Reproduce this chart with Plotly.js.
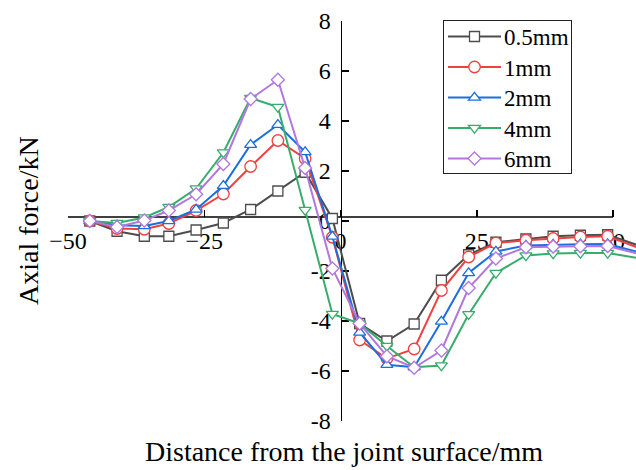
<!DOCTYPE html>
<html>
<head>
<meta charset="utf-8">
<script src="https://cdn.plot.ly/plotly-3.0.1.min.js"></script>
<style>
  html, body { margin: 0; padding: 0; background: #ffffff; }
  #chart { width: 636px; height: 470px; }
</style>
</head>
<body>
<div id="chart"></div>
<script>
// Distance from the joint surface (mm)
const distance = [-46, -41, -36, -31.5, -26.5, -21.5, -16.5, -11.5, -6.5, -1.5,
                  3.5, 8.5, 13.5, 18.5, 23.5, 28.5, 34, 39, 44, 49, 59];

// Axial force (kN) for each opening width
const series05 = [0, -0.41, -0.61, -0.61, -0.36, -0.08, 0.46, 1.2, 1.95, 0.1,
                  -4.1, -4.8, -4.12, -2.37, -1.35, -0.85, -0.72, -0.61, -0.57, -0.55, -1.31];
const series1  = [0, -0.3, -0.33, -0.1, 0.42, 1.08, 2.18, 3.22, 2.5, -0.65,
                  -4.76, -5.5, -5.12, -2.78, -1.44, -0.88, -0.77, -0.7, -0.64, -0.61, -1.43];
const series2  = [0, -0.17, -0.2, 0, 0.46, 1.41, 3.05, 3.85, 2.76, -0.62,
                  -4.46, -5.75, -5.85, -4.02, -2.08, -1.22, -0.98, -0.94, -0.93, -0.92, -1.5];
const series4  = [0, -0.08, 0.14, 0.56, 1.3, 2.74, 4.92, 4.56, 0.44, -3.72,
                  -4.1, -5.0, -5.85, -5.78, -3.73, -2.08, -1.38, -1.3, -1.28, -1.28, -1.64];
const series6  = [0, -0.24, 0.02, 0.42, 1.07, 2.28, 4.88, 5.65, 2.12, -1.9,
                  -4.1, -5.41, -5.87, -5.18, -2.68, -1.5, -1.05, -1.02, -1.01, -1.0, -1.55];

const seriesNames = ['0.5mm', '1mm', '2mm', '4mm', '6mm'];
const seriesData = [series05, series1, series2, series4, series6];

const xTickVals = [-50, -25, 0, 25, 50];
const xTickText = ['\u221250', '\u221225', '0', '25', '50'];
const yTickVals = [-8, -6, -4, -2, 0, 2, 4, 6, 8];
const yTickText = ['-8', '-6', '-4', '-2', '0', '2', '4', '6', '8'];

const colors  = ['#4d4d4d', '#F14040', '#1A6FDF', '#37AD6B', '#B177DE'];
const symbols = ['square', 'circle', 'triangle-up', 'triangle-down', 'diamond'];
const sizes   = [10, 11.5, 10.5, 10.5, 10];

const FONT = 'Liberation Serif, Times New Roman, serif';

const traces = seriesData.map((ys, i) => ({
  type: 'scatter',
  mode: 'lines+markers',
  name: seriesNames[i],
  x: distance,
  y: ys,
  line: { color: colors[i], width: 2 },
  marker: {
    symbol: symbols[i],
    size: sizes[i],
    color: '#ffffff',
    line: { color: colors[i], width: 1.3 }
  }
}));

const layout = {
  width: 636,
  height: 470,
  margin: { l: 68, r: 0, t: 21, b: 49 },
  paper_bgcolor: '#ffffff',
  plot_bgcolor: '#ffffff',
  font: { family: FONT, size: 24, color: '#000000' },
  showlegend: true,
  legend: {
    x: 0.66, y: 1.0, xanchor: 'left', yanchor: 'top',
    bgcolor: '#ffffff',
    bordercolor: '#222222',
    borderwidth: 1,
    font: { family: FONT, size: 23, color: '#000000' },
    tracegroupgap: 0
  },
  xaxis: {
    range: [-50, 54.2],
    anchor: 'free',
    position: 0.511,
    showgrid: false,
    zeroline: false,
    showline: false,
    ticks: 'inside',
    ticklen: 7,
    tickwidth: 1.5,
    tickcolor: '#000000',
    tickmode: 'array',
    tickvals: xTickVals,
    ticktext: xTickText,
    ticklabelstandoff: 7,
    tickfont: { family: FONT, size: 24, color: '#000000' },
    layer: 'below traces'
  },
  yaxis: {
    range: [-8, 8],
    anchor: 'free',
    position: 0.4798,
    showgrid: false,
    zeroline: false,
    showline: true,
    linecolor: '#000000',
    linewidth: 1.6,
    ticks: 'inside',
    ticklen: 7,
    tickwidth: 1.5,
    tickcolor: '#000000',
    tickmode: 'array',
    tickvals: yTickVals,
    ticktext: yTickText,
    ticklabelstandoff: 5,
    tickfont: { family: FONT, size: 24, color: '#000000' },
    layer: 'below traces'
  },
  shapes: [
    {
      // horizontal axis line, spanning the labelled range only
      type: 'line', xref: 'x', yref: 'y', layer: 'below',
      x0: -50, x1: 50, y0: 0.16, y1: 0.16,
      line: { color: '#000000', width: 1.5 }
    }
  ],
  annotations: [
    {
      text: 'Distance from the joint surface/mm',
      xref: 'paper', yref: 'paper', x: 0.486, y: -0.0775,
      xanchor: 'center', yanchor: 'middle', showarrow: false,
      font: { family: FONT, size: 28, color: '#000000' }
    },
    {
      text: 'Axial force/kN',
      xref: 'paper', yref: 'paper', x: -0.0704, y: 0.5,
      xanchor: 'center', yanchor: 'middle', showarrow: false, textangle: -90,
      font: { family: FONT, size: 28, color: '#000000' }
    }
  ]
};

// Legend layout: longer line samples, tighter rows, box at the top right
function tidyLegend(gd) {
  const leg = gd.querySelector('g.legend');
  if (!leg) return;
  const rowGap = 30.5, firstRow = 16.5, textX = 60;
  leg.querySelectorAll('g.traces').forEach((g, i) => {
    g.setAttribute('transform', 'translate(1,' + (firstRow + rowGap * i) + ')');
    g.querySelectorAll('path.js-line').forEach(p => p.setAttribute('d', 'M4,0h53'));
    g.querySelectorAll('.legendpoints path').forEach(p => p.setAttribute('transform', 'translate(30.5,0)'));
    const t = g.querySelector('text.legendtext');
    if (t) {
      t.setAttribute('x', textX);
      t.querySelectorAll('tspan').forEach(s => { if (s.hasAttribute('x')) s.setAttribute('x', textX); });
    }
  });
  const bg = leg.querySelector('rect.bg');
  if (bg) { bg.setAttribute('width', 128); bg.setAttribute('height', 153); }
  const sb = leg.querySelector('g.scrollbox');
  if (sb) sb.removeAttribute('clip-path');
  leg.setAttribute('transform', 'translate(443,20)');
}

Plotly.newPlot('chart', traces, layout, { displayModeBar: false, staticPlot: true })
  .then(gd => tidyLegend(gd));
</script>
</body>
</html>
